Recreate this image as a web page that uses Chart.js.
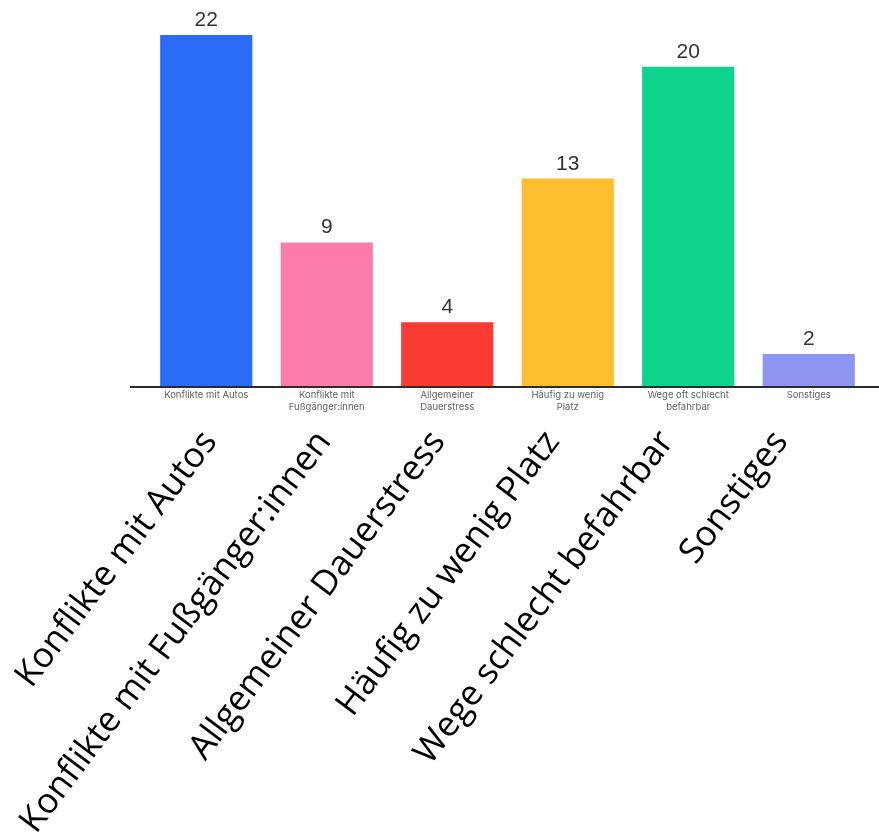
<!DOCTYPE html>
<html>
<head>
<meta charset="utf-8">
<script src="https://cdn.jsdelivr.net/npm/chart.js@4/dist/chart.umd.min.js"></script>
<style>
  html, body { margin: 0; padding: 0; background: #fff; }
  #wrap { width: 879px; height: 839px; }
</style>
</head>
<body>
<div id="wrap"><canvas id="problemChart"></canvas></div>
<script>
// Probleme beim Radfahren
const shortLabels = [
  "Konflikte mit Autos",
  ["Konflikte mit", "Fußgänger:innen"],
  ["Allgemeiner", "Dauerstress"],
  ["Häufig zu wenig", "Platz"],
  ["Wege oft schlecht", "befahrbar"],
  "Sonstiges",
];
const bigLabels = [
  "Konflikte mit Autos",
  "Konflikte mit Fußgänger:innen",
  "Allgemeiner Dauerstress",
  "Häufig zu wenig Platz",
  "Wege schlecht befahrbar",
  "Sonstiges",
];
const counts = [22, 9, 4, 13, 20, 2];
const barColors = ["#2a6cf6", "#fb7dab", "#f93b33", "#fdbe30", "#0dd38c", "#8e96f1"];

// numbers above the bars
const valueLabels = {
  id: "valueLabels",
  afterDatasetsDraw(chart) {
    const ctx = chart.ctx;
    const meta = chart.getDatasetMeta(0);
    ctx.save();
    ctx.fillStyle = "#333";
    ctx.font = "21px 'Liberation Sans', Arial, sans-serif";
    ctx.textAlign = "center";
    ctx.textBaseline = "alphabetic";
    meta.data.forEach((bar, i) => {
      ctx.fillText(counts[i], bar.x, bar.y - 9);
    });
    ctx.restore();
  },
};

// baseline runs a bit past the plot on both sides
const baseLine = {
  id: "baseLine",
  afterDatasetsDraw(chart) {
    const ctx = chart.ctx;
    const y = chart.scales.y.getPixelForValue(0) + 1;
    ctx.save();
    ctx.strokeStyle = "#2b2b2b";
    ctx.lineWidth = 2;
    ctx.beginPath();
    ctx.moveTo(chart.chartArea.left - 16, y);
    ctx.lineTo(chart.width, y);
    ctx.stroke();
    ctx.restore();
  },
};

const ctx = document.getElementById("problemChart").getContext("2d");
const problemChart = new Chart(ctx, {
  type: "bar",
  data: {
    labels: shortLabels,
    datasets: [
      {
        label: "Nennungen",
        data: counts,
        backgroundColor: barColors,
        borderWidth: 0,
        categoryPercentage: 1,
        barPercentage: 0.765,
      },
    ],
  },
  options: {
    responsive: true,
    maintainAspectRatio: false,
    animation: false,
    layout: {
      padding: { left: 146, right: 10, top: 3, bottom: 0 },
    },
    scales: {
      y: {
        display: false,
        min: 0,
        max: 24,
      },
      x: {
        weight: 0,
        grid: { display: false, drawTicks: false },
        border: { display: false },
        ticks: {
          color: "#5f5f5f",
          padding: 3,
          font: { family: "Inter, 'Noto Sans', sans-serif", size: 9.5, lineHeight: 1.25 },
          maxRotation: 0,
          autoSkip: false,
        },
        afterFit(scale) {
          scale.height = 30;
        },
      },
      // second row of category names, large and slanted
      x2: {
        type: "linear",
        position: "bottom",
        weight: 1,
        offset: false,
        min: -0.56,
        max: 5.77,
        grid: { display: false, drawTicks: false },
        border: { display: false },
        afterBuildTicks(axis) {
          axis.ticks = bigLabels.map((_, i) => ({ value: i }));
        },
        ticks: {
          color: "#000",
          padding: 7,
          autoSkip: false,
          minRotation: 53,
          maxRotation: 53,
          font: { family: "'Open Sans', sans-serif", size: 35 },
          callback: (v) => bigLabels[v],
        },
        afterFit(scale) {
          scale.height = 423;
          scale.paddingLeft = 0;
          scale.paddingRight = 0;
        },
      },
    },
    plugins: {
      legend: { display: false },
      tooltip: { enabled: false },
      title: { display: false },
    },
  },
  plugins: [valueLabels, baseLine],
});
</script>
</body>
</html>
